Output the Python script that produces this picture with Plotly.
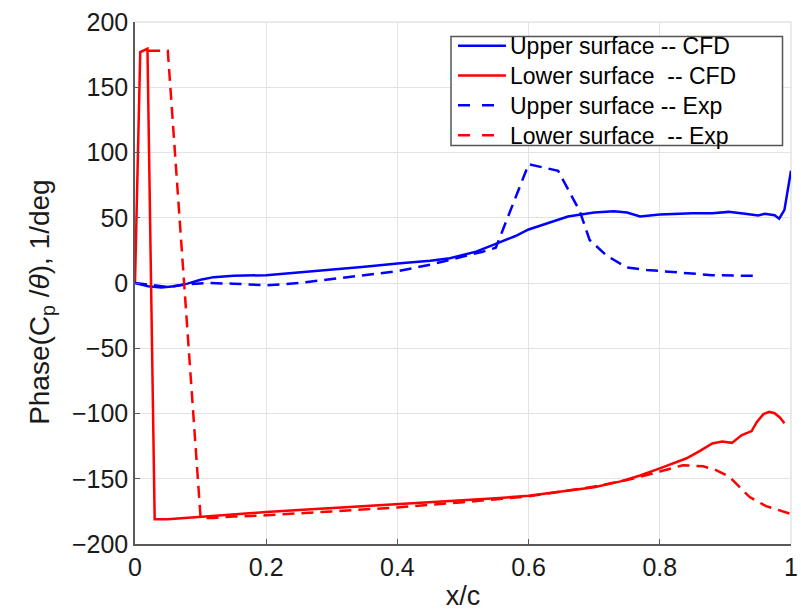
import plotly.graph_objects as go

# Upper surface -- CFD
upper_cfd_x = [0, 0.02, 0.04, 0.06, 0.08, 0.1, 0.12, 0.15, 0.2, 0.25, 0.3, 0.35, 0.4, 0.45, 0.48,
               0.52, 0.55, 0.58, 0.6, 0.63, 0.66, 0.7, 0.73, 0.75, 0.77, 0.8, 0.85, 0.88, 0.905,
               0.93, 0.95, 0.96, 0.975, 0.982, 0.99, 1.0]
upper_cfd_y = [0, -2.5, -3.5, -2.5, -0.5, 2.5, 4.5, 5.5, 6, 8, 10, 12.5, 15, 17, 19,
               24, 30, 36, 41, 46, 51, 54, 55, 54, 51, 52.5, 53.5, 53.5, 54.5,
               53, 51.8, 53, 52, 49.3, 56, 86]

# Lower surface -- CFD
lower_cfd_x = [0, 0.008, 0.019, 0.03, 0.05, 0.1, 0.15, 0.2, 0.25, 0.3, 0.35, 0.4, 0.45, 0.5, 0.55,
               0.6, 0.65, 0.7, 0.74, 0.77, 0.8, 0.84, 0.86, 0.88, 0.895, 0.91, 0.925, 0.94,
               0.948, 0.958, 0.967, 0.975, 0.983, 0.99]
lower_cfd_y = [0, 177, 179.5, -181, -181, -179, -177, -175.5, -174, -172.5, -171, -169.5, -168, -167, -165,
               -163, -160, -156.5, -152, -147.5, -142, -134.5, -129, -123, -121.5, -122.5, -116.5, -113.5,
               -106.5, -100.5, -98.8, -99.8, -103, -107.5]

# Upper surface -- Exp
upper_exp_x = [0, 0.03, 0.05, 0.08, 0.11, 0.15, 0.2, 0.25, 0.3, 0.35, 0.4, 0.45, 0.5, 0.53, 0.55,
               0.6, 0.645, 0.66, 0.678, 0.693, 0.719, 0.749, 0.78, 0.83, 0.88, 0.95]
upper_exp_y = [0, -1.5, -3, -1, 0, -0.5, -1.8, 0, 3, 5.5, 9, 14, 20, 24, 27,
               91, 86, 72, 55, 33, 21, 12, 10, 8, 6, 5.4]

# Lower surface -- Exp
lower_exp_x = [0.02, 0.05, 0.1, 0.12, 0.15, 0.2, 0.3, 0.4, 0.5, 0.6, 0.7, 0.75, 0.8, 0.835,
               0.866, 0.884, 0.906, 0.937, 0.962, 1.0]
lower_exp_y = [178, 178, -180, -180, -179, -178, -175, -172, -168, -163.5, -156, -151, -144.5, -139.6,
               -140.4, -143, -148.5, -164, -171, -177]

series_names = ["Upper surface -- CFD", "Lower surface  -- CFD",
                "Upper surface -- Exp", "Lower surface  -- Exp"]

x_ticks = [0, 0.2, 0.4, 0.6, 0.8, 1]
y_ticks = [-200, -150, -100, -50, 0, 50, 100, 150, 200]

BLUE = "#0000ff"
RED = "#ff0000"
DASH = "12px,7px"
FONT = "Liberation Sans, Arial, sans-serif"
TXT = "#1a1a1a"

styles = [dict(color=BLUE, width=2.5), dict(color=RED, width=2.5),
          dict(color=BLUE, width=2.5, dash=DASH), dict(color=RED, width=2.5, dash=DASH)]
xs = [upper_cfd_x, lower_cfd_x, upper_exp_x, lower_exp_x]
ys = [upper_cfd_y, lower_cfd_y, upper_exp_y, lower_exp_y]

fig = go.Figure()
for x, y, nm, st in zip(xs, ys, series_names, styles):
    fig.add_trace(go.Scatter(x=x, y=y, mode="lines", name=nm, line=st, showlegend=False))

axis_common = dict(
    showgrid=True, gridcolor="#e3e3e3", gridwidth=1,
    showline=True, linecolor="#5a5a5a", linewidth=1.5,
    ticks="inside", ticklen=5, tickcolor="#5a5a5a", tickwidth=1,
    zeroline=False, mirror=False, automargin=False,
    tickfont=dict(family=FONT, size=25, color=TXT),
)

fig.update_xaxes(range=[0, 1], tickvals=x_ticks, ticktext=[str(t) for t in x_ticks],
                 title=dict(text="x/c", font=dict(family=FONT, size=27, color=TXT), standoff=10),
                 **axis_common)
fig.update_yaxes(range=[-200, 200], tickvals=y_ticks, **axis_common)

# light top/right box edges
fig.add_shape(type="line", xref="paper", yref="paper", x0=0, x1=1, y0=1, y1=1,
              line=dict(color="#e3e3e3", width=1.5), layer="below")
fig.add_shape(type="line", xref="paper", yref="paper", x0=1, x1=1, y0=0, y1=1,
              line=dict(color="#e3e3e3", width=1.5), layer="below")

# pixel geometry -> paper coordinates
L, R, T, B = 134.5, 791.5, 21.5, 544.0
def px(v):
    return (v - L) / (R - L)
def py(v):
    return (B - v) / (B - T)

# y-axis title
fig.add_annotation(xref="paper", yref="paper", x=px(41), y=py(302), textangle=-90,
                   xanchor="center", yanchor="middle", showarrow=False,
                   text="Phase(C<sub>p</sub> /<i>θ</i>), 1/deg",
                   font=dict(family=FONT, size=28, color=TXT))

# Manual legend
fig.add_shape(type="rect", xref="paper", yref="paper",
              x0=px(451), x1=px(783), y0=py(145), y1=py(36),
              line=dict(color="#555555", width=1.5), fillcolor="white", layer="above")
LEG_FS = 23
spacing = LEG_FS * 1.3
mid = 90.0
row_y = [mid + (i - 1.5) * spacing for i in range(4)]
for ry, st in zip(row_y, styles):
    ls = dict(color=st["color"], width=2.5)
    if "dash" in st:
        ls["dash"] = "12px,12px"
    fig.add_shape(type="line", xref="paper", yref="paper",
                  x0=px(458), x1=px(506), y0=py(ry), y1=py(ry), line=ls, layer="above")
fig.add_annotation(xref="paper", yref="paper", x=px(509), y=py(mid + 1),
                   xanchor="left", yanchor="middle", align="left", showarrow=False,
                   text="<br>".join(series_names), borderpad=0,
                   font=dict(family=FONT, size=LEG_FS, color="#000000"))

fig.update_layout(
    width=801, height=611,
    margin=dict(l=134.5, r=9.5, t=21.5, b=67),
    plot_bgcolor="white", paper_bgcolor="white",
    font=dict(family=FONT, color=TXT),
    showlegend=False,
)

fig.write_html("out.html")
